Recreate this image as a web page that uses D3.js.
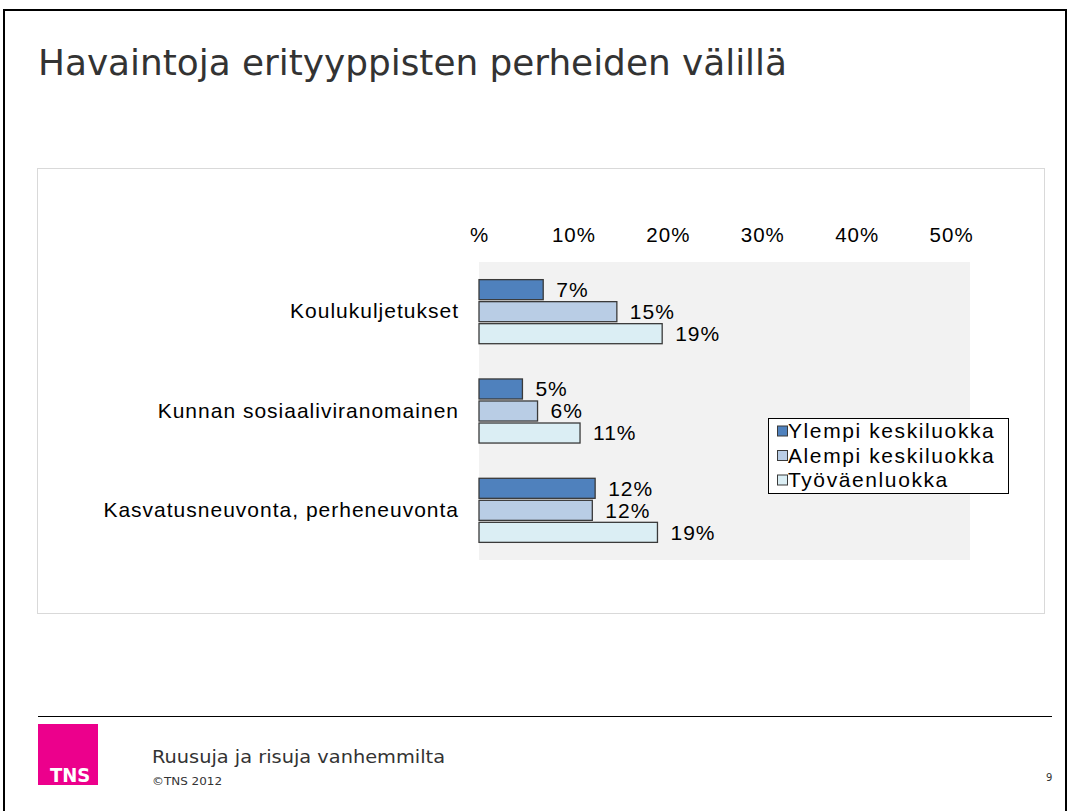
<!DOCTYPE html>
<html>
<head>
<meta charset="utf-8">
<script src="https://cdn.jsdelivr.net/npm/d3@7"></script>
<style>
  body { margin: 0; background: #fff; }
</style>
</head>
<body>
<div id="chart"></div>
<script>
const categories = ["Koulukuljetukset", "Kunnan sosiaaliviranomainen", "Kasvatusneuvonta, perheneuvonta"]
const seriesNames = ["Ylempi keskiluokka", "Alempi keskiluokka", "Työväenluokka"]
const ylempi = [6.8, 4.6, 12.3]
const alempi = [14.6, 6.2, 12.0]
const tyovaen = [19.4, 10.7, 18.9]
const tickValues = [0, 10, 20, 30, 40, 50]
const tickLabels = ["%", "10%", "20%", "30%", "40%", "50%"]
const colors = ["#4f81bd", "#b9cde5", "#dbeef4"]

const width = 1070,
      height = 811

const chartFont = "'Liberation Sans', Arial, sans-serif"
const slideFont = "'DejaVu Sans Condensed', 'DejaVu Sans', sans-serif"

const svg = d3.select("#chart")
              .append("svg")
              .attr("width", width)
              .attr("height", height)
              .style("font-family", chartFont)

// slide frame
svg.append("rect")
   .attr("x", 4).attr("y", 10)
   .attr("width", 1062).attr("height", 820)
   .attr("fill", "none")
   .attr("stroke", "#000")
   .attr("stroke-width", 2)

svg.append("text")
   .attr("x", 38).attr("y", 75)
   .attr("font-family", slideFont)
   .attr("font-size", 36)
   .attr("fill", "#333")
   .attr("textLength", 749)
   .attr("lengthAdjust", "spacingAndGlyphs")
   .text("Havaintoja erityyppisten perheiden välillä")

// chart panel
svg.append("rect")
   .attr("x", 37.5).attr("y", 168.5)
   .attr("width", 1007).attr("height", 445)
   .attr("fill", "#fff")
   .attr("stroke", "#d9d9d9")

const plotTop = 262, plotBottom = 560

const xScale = d3.scaleLinear()
                 .domain([0, 52])
                 .range([479, 970])

svg.append("rect")
   .attr("x", xScale(0)).attr("y", plotTop)
   .attr("width", xScale(52) - xScale(0))
   .attr("height", plotBottom - plotTop)
   .attr("fill", "#f2f2f2")

// top axis, labels only
const xAxis = d3.axisTop(xScale)
                .tickValues(tickValues)
                .tickFormat((d, i) => tickLabels[i])
                .tickSize(0)
                .tickPadding(0)

const gx = svg.append("g")
              .attr("transform", "translate(0, 242)")
              .call(xAxis)
gx.select(".domain").remove()
gx.selectAll("text")
  .attr("font-family", chartFont)
  .attr("font-size", 20.5)
  .attr("letter-spacing", 1)
  .attr("fill", "#000")

const yScale = d3.scaleBand()
                 .domain(categories)
                 .range([plotTop, plotBottom])
                 .paddingInner(0.355)
                 .paddingOuter(0.1775)

const inner = d3.scaleBand()
                .domain(seriesNames)
                .range([0, yScale.bandwidth()])
                .paddingInner(0.09)

const yAxis = d3.axisLeft(yScale).tickSize(0).tickPadding(20)
const gy = svg.append("g")
              .attr("transform", "translate(479, 0)")
              .call(yAxis)
gy.select(".domain").remove()
gy.selectAll("text")
  .attr("font-family", chartFont)
  .attr("font-size", 21)
  .attr("letter-spacing", 1)
  .attr("fill", "#000")

const allSeries = [ylempi, alempi, tyovaen]
const rows = []
categories.forEach((c, ci) => {
   seriesNames.forEach((s, si) => {
      rows.push({cat: c, ser: s, si: si, value: allSeries[si][ci]})
   })
})

svg.selectAll("rect.bar")
   .data(rows)
   .enter()
   .append("rect")
   .attr("class", "bar")
   .attr("x", xScale(0))
   .attr("y", d => yScale(d.cat) + inner(d.ser))
   .attr("width", d => xScale(d.value) - xScale(0))
   .attr("height", inner.bandwidth())
   .attr("fill", d => colors[d.si])
   .attr("stroke", "#3a3a3a")
   .attr("stroke-width", 1.3)

svg.selectAll("text.val")
   .data(rows)
   .enter()
   .append("text")
   .attr("class", "val")
   .attr("x", d => xScale(d.value) + 13)
   .attr("y", d => yScale(d.cat) + inner(d.ser) + inner.bandwidth() / 2)
   .attr("dy", "0.35em")
   .attr("font-size", 21)
   .attr("letter-spacing", 1)
   .text(d => Math.round(d.value) + "%")

// legend
const legend = svg.append("g").attr("transform", "translate(768, 418)")
legend.append("rect")
      .attr("x", 0.5).attr("y", 0.5)
      .attr("width", 240).attr("height", 75)
      .attr("fill", "#fff")
      .attr("stroke", "#000")

seriesNames.forEach((s, i) => {
   legend.append("rect")
         .attr("x", 9.5).attr("y", 8 + i * 24.5)
         .attr("width", 10).attr("height", 10)
         .attr("fill", colors[i])
         .attr("stroke", "#3a3a3a")
   legend.append("text")
         .attr("x", 20).attr("y", 13 + i * 24.5)
         .attr("dy", "0.35em")
         .attr("font-size", 21)
         .attr("letter-spacing", 1.6)
         .text(s)
})

// footer
svg.append("line")
   .attr("x1", 38).attr("x2", 1052)
   .attr("y1", 716.5).attr("y2", 716.5)
   .attr("stroke", "#000")

svg.append("rect")
   .attr("x", 38).attr("y", 724)
   .attr("width", 60).attr("height", 61)
   .attr("fill", "#ec008c")

svg.append("text")
   .attr("x", 50).attr("y", 782)
   .attr("font-family", slideFont)
   .attr("font-weight", "bold")
   .attr("font-size", 20)
   .attr("fill", "#fff")
   .text("TNS")

svg.append("text")
   .attr("x", 152).attr("y", 763)
   .attr("font-family", "'DejaVu Sans', sans-serif")
   .attr("font-size", 17)
   .attr("fill", "#333")
   .attr("textLength", 293)
   .attr("lengthAdjust", "spacingAndGlyphs")
   .text("Ruusuja ja risuja vanhemmilta")

svg.append("text")
   .attr("x", 152).attr("y", 785)
   .attr("font-family", "'DejaVu Sans', sans-serif")
   .attr("font-size", 10)
   .attr("fill", "#333")
   .attr("textLength", 70)
   .attr("lengthAdjust", "spacingAndGlyphs")
   .text("©TNS 2012")

svg.append("text")
   .attr("x", 1046).attr("y", 781)
   .attr("font-family", "'DejaVu Sans', sans-serif")
   .attr("font-size", 10)
   .attr("fill", "#333")
   .text("9")
</script>
</body>
</html>
